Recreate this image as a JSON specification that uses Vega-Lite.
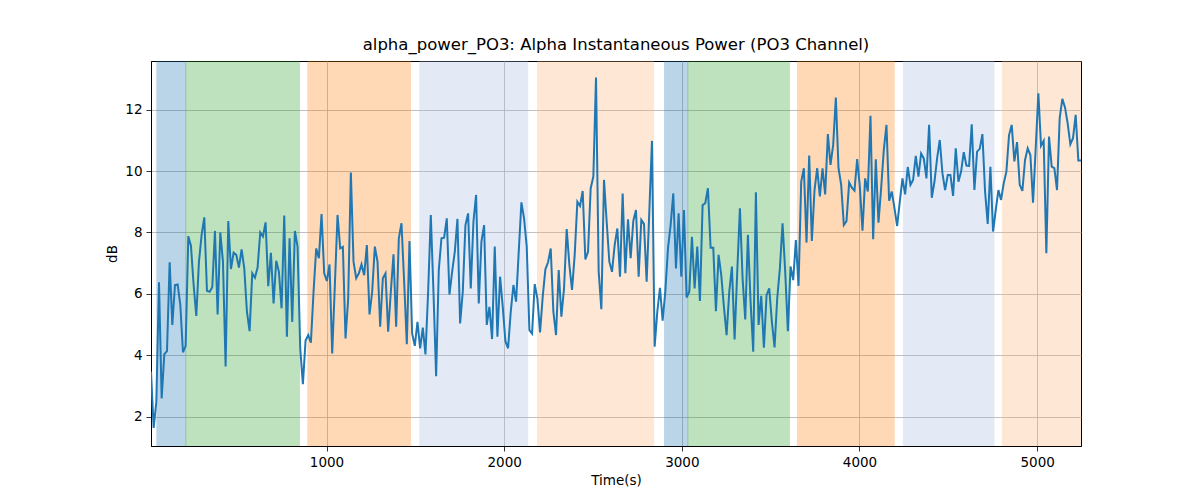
{
  "$schema": "https://vega.github.io/schema/vega-lite/v6.json",
  "width": 930,
  "height": 385,
  "autosize": {"type": "none"},
  "padding": {"left": 151, "top": 61, "right": 119, "bottom": 54},
  "background": "white",
  "title": {
    "text": "alpha_power_PO3: Alpha Instantaneous Power (PO3 Channel)",
    "font": "DejaVu Sans",
    "fontSize": 16.5,
    "fontWeight": "normal",
    "color": "black",
    "anchor": "middle",
    "offset": 8
  },
  "datasets": {
    "bands": [
      {"start": 45, "end": 208, "kind": "a"},
      {"start": 208, "end": 848, "kind": "b"},
      {"start": 895, "end": 1472, "kind": "c"},
      {"start": 1525, "end": 2132, "kind": "d"},
      {"start": 2188, "end": 2841, "kind": "e"},
      {"start": 2903, "end": 3034, "kind": "a"},
      {"start": 3034, "end": 3606, "kind": "b"},
      {"start": 3651, "end": 4195, "kind": "c"},
      {"start": 4247, "end": 4757, "kind": "d"},
      {"start": 4804, "end": 5300, "kind": "e"}
    ],
    "series": [
      {"t": 12, "v": 3.47}, {"t": 27, "v": 1.64}, {"t": 42, "v": 2.49}, {"t": 57, "v": 6.38}, {"t": 72, "v": 2.60}, {"t": 87, "v": 4.04}, {"t": 102, "v": 4.14}, {"t": 117, "v": 7.03}, {"t": 132, "v": 4.99}, {"t": 147, "v": 6.29},
      {"t": 162, "v": 6.31}, {"t": 177, "v": 5.64}, {"t": 192, "v": 4.10}, {"t": 207, "v": 4.31}, {"t": 222, "v": 7.88}, {"t": 237, "v": 7.56}, {"t": 252, "v": 6.29}, {"t": 267, "v": 5.28}, {"t": 282, "v": 7.05}, {"t": 297, "v": 7.92},
      {"t": 312, "v": 8.49}, {"t": 327, "v": 6.10}, {"t": 342, "v": 6.07}, {"t": 357, "v": 6.22}, {"t": 372, "v": 8.05}, {"t": 387, "v": 5.33}, {"t": 402, "v": 8.00}, {"t": 417, "v": 7.05}, {"t": 432, "v": 3.64}, {"t": 447, "v": 8.37},
      {"t": 462, "v": 6.81}, {"t": 477, "v": 7.34}, {"t": 492, "v": 7.27}, {"t": 507, "v": 6.86}, {"t": 522, "v": 7.45}, {"t": 537, "v": 6.83}, {"t": 552, "v": 5.42}, {"t": 567, "v": 4.79}, {"t": 582, "v": 6.67}, {"t": 597, "v": 6.53},
      {"t": 612, "v": 6.86}, {"t": 627, "v": 8.00}, {"t": 642, "v": 7.87}, {"t": 657, "v": 8.33}, {"t": 672, "v": 6.25}, {"t": 687, "v": 7.34}, {"t": 702, "v": 5.69}, {"t": 717, "v": 7.08}, {"t": 732, "v": 6.72}, {"t": 747, "v": 5.53},
      {"t": 762, "v": 8.55}, {"t": 777, "v": 4.61}, {"t": 792, "v": 7.81}, {"t": 807, "v": 5.09}, {"t": 822, "v": 8.05}, {"t": 837, "v": 7.54}, {"t": 852, "v": 4.23}, {"t": 867, "v": 3.06}, {"t": 882, "v": 4.48}, {"t": 897, "v": 4.66},
      {"t": 912, "v": 4.41}, {"t": 927, "v": 6.07}, {"t": 942, "v": 7.48}, {"t": 957, "v": 7.16}, {"t": 972, "v": 8.60}, {"t": 987, "v": 6.67}, {"t": 1002, "v": 6.42}, {"t": 1017, "v": 6.96}, {"t": 1032, "v": 4.06}, {"t": 1047, "v": 6.29},
      {"t": 1062, "v": 8.57}, {"t": 1077, "v": 7.48}, {"t": 1092, "v": 7.53}, {"t": 1107, "v": 4.55}, {"t": 1122, "v": 5.85}, {"t": 1137, "v": 9.95}, {"t": 1152, "v": 7.05}, {"t": 1167, "v": 6.51}, {"t": 1182, "v": 6.67}, {"t": 1197, "v": 6.96},
      {"t": 1212, "v": 6.61}, {"t": 1227, "v": 7.59}, {"t": 1242, "v": 5.33}, {"t": 1257, "v": 6.07}, {"t": 1272, "v": 7.54}, {"t": 1287, "v": 7.05}, {"t": 1302, "v": 4.93}, {"t": 1317, "v": 6.51}, {"t": 1332, "v": 6.67}, {"t": 1347, "v": 4.77},
      {"t": 1362, "v": 6.07}, {"t": 1377, "v": 7.29}, {"t": 1392, "v": 4.93}, {"t": 1407, "v": 7.81}, {"t": 1422, "v": 8.30}, {"t": 1437, "v": 6.40}, {"t": 1452, "v": 4.36}, {"t": 1467, "v": 7.72}, {"t": 1482, "v": 4.71}, {"t": 1497, "v": 4.31},
      {"t": 1512, "v": 5.09}, {"t": 1527, "v": 4.23}, {"t": 1542, "v": 4.90}, {"t": 1557, "v": 4.03}, {"t": 1572, "v": 6.07}, {"t": 1587, "v": 8.57}, {"t": 1602, "v": 6.07}, {"t": 1617, "v": 3.32}, {"t": 1632, "v": 6.78}, {"t": 1647, "v": 7.81},
      {"t": 1662, "v": 7.83}, {"t": 1677, "v": 8.46}, {"t": 1692, "v": 5.98}, {"t": 1707, "v": 6.72}, {"t": 1722, "v": 7.37}, {"t": 1737, "v": 8.44}, {"t": 1752, "v": 5.04}, {"t": 1767, "v": 6.07}, {"t": 1782, "v": 8.24}, {"t": 1797, "v": 8.62},
      {"t": 1812, "v": 6.18}, {"t": 1827, "v": 8.35}, {"t": 1842, "v": 9.22}, {"t": 1857, "v": 5.69}, {"t": 1872, "v": 7.70}, {"t": 1887, "v": 8.24}, {"t": 1902, "v": 4.99}, {"t": 1917, "v": 5.58}, {"t": 1932, "v": 4.53}, {"t": 1947, "v": 7.54},
      {"t": 1962, "v": 4.61}, {"t": 1977, "v": 6.56}, {"t": 1992, "v": 5.58}, {"t": 2007, "v": 4.46}, {"t": 2022, "v": 4.23}, {"t": 2037, "v": 5.42}, {"t": 2052, "v": 6.29}, {"t": 2067, "v": 5.75}, {"t": 2082, "v": 7.37}, {"t": 2097, "v": 8.98},
      {"t": 2112, "v": 8.46}, {"t": 2127, "v": 7.54}, {"t": 2142, "v": 4.82}, {"t": 2157, "v": 4.71}, {"t": 2172, "v": 6.32}, {"t": 2187, "v": 5.85}, {"t": 2202, "v": 4.75}, {"t": 2217, "v": 5.91}, {"t": 2232, "v": 6.80}, {"t": 2247, "v": 7.03},
      {"t": 2262, "v": 7.48}, {"t": 2277, "v": 5.42}, {"t": 2292, "v": 4.66}, {"t": 2307, "v": 6.78}, {"t": 2322, "v": 5.26}, {"t": 2337, "v": 6.18}, {"t": 2352, "v": 8.11}, {"t": 2367, "v": 6.94}, {"t": 2382, "v": 6.13}, {"t": 2397, "v": 7.27},
      {"t": 2412, "v": 9.00}, {"t": 2427, "v": 8.86}, {"t": 2442, "v": 9.35}, {"t": 2457, "v": 7.12}, {"t": 2472, "v": 7.37}, {"t": 2487, "v": 9.44}, {"t": 2502, "v": 9.82}, {"t": 2517, "v": 13.04}, {"t": 2532, "v": 6.72}, {"t": 2547, "v": 5.50},
      {"t": 2562, "v": 9.71}, {"t": 2577, "v": 8.35}, {"t": 2592, "v": 7.05}, {"t": 2607, "v": 6.72}, {"t": 2622, "v": 7.59}, {"t": 2637, "v": 8.13}, {"t": 2652, "v": 6.56}, {"t": 2667, "v": 9.27}, {"t": 2682, "v": 6.67}, {"t": 2697, "v": 8.43},
      {"t": 2712, "v": 7.16}, {"t": 2727, "v": 8.38}, {"t": 2742, "v": 8.73}, {"t": 2757, "v": 6.56}, {"t": 2772, "v": 8.41}, {"t": 2787, "v": 8.28}, {"t": 2802, "v": 6.40}, {"t": 2817, "v": 8.68}, {"t": 2832, "v": 10.98}, {"t": 2847, "v": 4.28},
      {"t": 2862, "v": 5.42}, {"t": 2877, "v": 6.20}, {"t": 2892, "v": 5.13}, {"t": 2907, "v": 6.07}, {"t": 2922, "v": 7.48}, {"t": 2937, "v": 8.24}, {"t": 2952, "v": 9.27}, {"t": 2967, "v": 6.83}, {"t": 2982, "v": 8.62}, {"t": 2997, "v": 6.56},
      {"t": 3012, "v": 8.73}, {"t": 3027, "v": 5.88}, {"t": 3042, "v": 6.07}, {"t": 3057, "v": 7.86}, {"t": 3072, "v": 6.18}, {"t": 3087, "v": 7.54}, {"t": 3102, "v": 5.77}, {"t": 3117, "v": 8.89}, {"t": 3132, "v": 8.95}, {"t": 3147, "v": 9.44},
      {"t": 3162, "v": 7.50}, {"t": 3177, "v": 7.50}, {"t": 3192, "v": 5.44}, {"t": 3207, "v": 7.27}, {"t": 3222, "v": 6.61}, {"t": 3237, "v": 5.58}, {"t": 3252, "v": 4.66}, {"t": 3267, "v": 6.07}, {"t": 3282, "v": 6.89}, {"t": 3297, "v": 4.52},
      {"t": 3312, "v": 6.72}, {"t": 3327, "v": 8.79}, {"t": 3342, "v": 6.51}, {"t": 3357, "v": 5.17}, {"t": 3372, "v": 7.92}, {"t": 3387, "v": 5.75}, {"t": 3402, "v": 4.12}, {"t": 3417, "v": 9.31}, {"t": 3432, "v": 4.99}, {"t": 3447, "v": 5.94},
      {"t": 3462, "v": 4.25}, {"t": 3477, "v": 5.96}, {"t": 3492, "v": 6.18}, {"t": 3507, "v": 5.09}, {"t": 3522, "v": 4.26}, {"t": 3537, "v": 5.85}, {"t": 3552, "v": 6.83}, {"t": 3567, "v": 8.30}, {"t": 3582, "v": 6.72}, {"t": 3597, "v": 4.79},
      {"t": 3612, "v": 6.89}, {"t": 3627, "v": 6.45}, {"t": 3642, "v": 7.75}, {"t": 3657, "v": 6.26}, {"t": 3672, "v": 9.65}, {"t": 3687, "v": 10.09}, {"t": 3702, "v": 7.67}, {"t": 3717, "v": 10.50}, {"t": 3732, "v": 7.72}, {"t": 3747, "v": 9.38},
      {"t": 3762, "v": 10.09}, {"t": 3777, "v": 9.17}, {"t": 3792, "v": 10.09}, {"t": 3807, "v": 9.24}, {"t": 3822, "v": 11.20}, {"t": 3837, "v": 10.20}, {"t": 3852, "v": 10.85}, {"t": 3867, "v": 12.39}, {"t": 3882, "v": 10.09}, {"t": 3897, "v": 9.55},
      {"t": 3912, "v": 8.24}, {"t": 3927, "v": 8.37}, {"t": 3942, "v": 9.63}, {"t": 3957, "v": 9.46}, {"t": 3972, "v": 9.36}, {"t": 3987, "v": 10.39}, {"t": 4002, "v": 9.49}, {"t": 4017, "v": 8.06}, {"t": 4032, "v": 9.76}, {"t": 4047, "v": 9.33},
      {"t": 4062, "v": 11.80}, {"t": 4077, "v": 7.78}, {"t": 4092, "v": 10.38}, {"t": 4107, "v": 8.32}, {"t": 4122, "v": 9.44}, {"t": 4137, "v": 10.69}, {"t": 4152, "v": 11.50}, {"t": 4167, "v": 9.03}, {"t": 4182, "v": 9.33}, {"t": 4197, "v": 8.79},
      {"t": 4212, "v": 8.21}, {"t": 4227, "v": 9.00}, {"t": 4242, "v": 9.76}, {"t": 4257, "v": 9.24}, {"t": 4272, "v": 10.13}, {"t": 4287, "v": 9.55}, {"t": 4302, "v": 9.71}, {"t": 4317, "v": 10.49}, {"t": 4332, "v": 9.82}, {"t": 4347, "v": 10.57},
      {"t": 4362, "v": 10.41}, {"t": 4377, "v": 9.76}, {"t": 4392, "v": 11.50}, {"t": 4407, "v": 9.13}, {"t": 4422, "v": 9.65}, {"t": 4437, "v": 10.41}, {"t": 4452, "v": 11.01}, {"t": 4467, "v": 9.93}, {"t": 4482, "v": 9.38}, {"t": 4497, "v": 9.87},
      {"t": 4512, "v": 9.87}, {"t": 4527, "v": 9.19}, {"t": 4542, "v": 10.74}, {"t": 4557, "v": 9.65}, {"t": 4572, "v": 9.98}, {"t": 4587, "v": 10.61}, {"t": 4602, "v": 10.18}, {"t": 4617, "v": 10.17}, {"t": 4632, "v": 11.52}, {"t": 4647, "v": 9.38},
      {"t": 4662, "v": 10.63}, {"t": 4677, "v": 10.72}, {"t": 4692, "v": 11.20}, {"t": 4707, "v": 9.33}, {"t": 4722, "v": 8.28}, {"t": 4737, "v": 10.14}, {"t": 4752, "v": 8.03}, {"t": 4767, "v": 8.73}, {"t": 4782, "v": 9.38}, {"t": 4797, "v": 9.06},
      {"t": 4812, "v": 9.60}, {"t": 4827, "v": 9.98}, {"t": 4842, "v": 11.17}, {"t": 4857, "v": 11.50}, {"t": 4872, "v": 10.31}, {"t": 4887, "v": 10.94}, {"t": 4902, "v": 9.55}, {"t": 4917, "v": 9.35}, {"t": 4932, "v": 10.36}, {"t": 4947, "v": 10.74},
      {"t": 4962, "v": 10.52}, {"t": 4977, "v": 8.97}, {"t": 4992, "v": 10.74}, {"t": 5007, "v": 12.53}, {"t": 5022, "v": 10.82}, {"t": 5037, "v": 10.98}, {"t": 5052, "v": 7.32}, {"t": 5067, "v": 11.12}, {"t": 5082, "v": 10.14}, {"t": 5097, "v": 10.09},
      {"t": 5112, "v": 9.38}, {"t": 5127, "v": 11.72}, {"t": 5142, "v": 12.35}, {"t": 5157, "v": 12.07}, {"t": 5172, "v": 11.55}, {"t": 5187, "v": 10.87}, {"t": 5202, "v": 11.07}, {"t": 5217, "v": 11.83}, {"t": 5232, "v": 10.34}, {"t": 5247, "v": 10.34}
    ]
  },
  "layer": [
    {
      "data": {"name": "bands"},
      "mark": {"type": "rect", "clip": true, "opacity": 0.3, "strokeWidth": 1},
      "encoding": {
        "x": {"field": "start", "type": "quantitative", "scale": {"domain": [12, 5247], "zero": false, "nice": false}},
        "x2": {"field": "end"},
        "color": {
          "field": "kind",
          "type": "nominal",
          "scale": {"domain": ["a", "b", "c", "d", "e"], "range": ["#1f77b4", "#2ca02c", "#ff7f0e", "#a5bce4", "#fcb273"]},
          "legend": null
        },
        "stroke": {
          "field": "kind",
          "type": "nominal",
          "scale": {"domain": ["a", "b", "c", "d", "e"], "range": ["#1f77b4", "#2ca02c", "#ff7f0e", "#a5bce4", "#fcb273"]},
          "legend": null
        }
      }
    },
    {
      "data": {"name": "series"},
      "mark": {"type": "line", "color": "#1f77b4", "strokeWidth": 2, "clip": true},
      "encoding": {
        "x": {
          "field": "t",
          "type": "quantitative",
          "scale": {"domain": [12, 5247], "zero": false, "nice": false},
          "axis": {"title": "Time(s)", "values": [1000, 2000, 3000, 4000, 5000], "format": "d"}
        },
        "y": {
          "field": "v",
          "type": "quantitative",
          "scale": {"domain": [1.05, 13.58], "zero": false, "nice": false},
          "axis": {"title": "dB", "values": [2, 4, 6, 8, 10, 12], "format": "d"}
        }
      }
    }
  ],
  "config": {
    "font": "DejaVu Sans",
    "view": {"stroke": "black", "strokeWidth": 1},
    "axis": {
      "grid": true,
      "gridColor": "#b0b0b0",
      "gridWidth": 0.8,
      "gridOpacity": 1,
      "domainColor": "black",
      "domainWidth": 1,
      "tickColor": "black",
      "tickSize": 5,
      "tickWidth": 0.8,
      "labelPadding": 4,
      "labelFont": "DejaVu Sans",
      "labelFontSize": 13.5,
      "labelColor": "black",
      "titleFont": "DejaVu Sans",
      "titleFontSize": 13.5,
      "titleFontWeight": "normal",
      "titleColor": "black",
      "titlePadding": 5
    }
  }
}
